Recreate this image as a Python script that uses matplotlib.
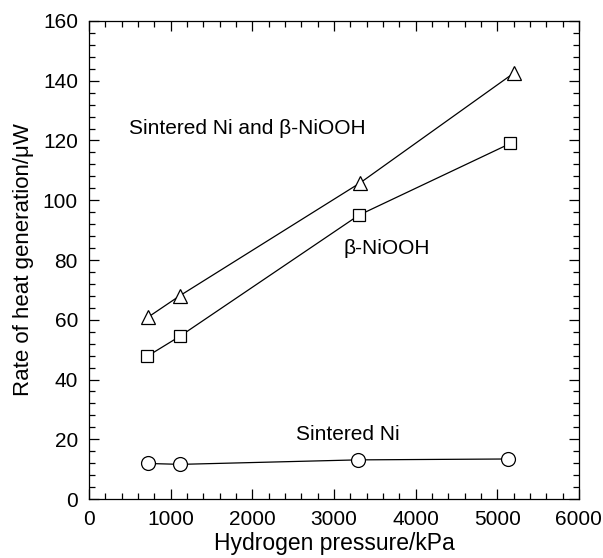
import matplotlib.pyplot as plt
from matplotlib.ticker import MultipleLocator

plt.rcParams['font.family'] = ['Liberation Sans', 'DejaVu Sans']

# data
p_tri = [720, 1110, 3320, 5200]
q_tri = [60.8, 68.0, 105.8, 142.5]
p_sq = [715, 1115, 3305, 5160]
q_sq = [47.8, 54.5, 95.0, 119.0]
p_circ = [720, 1120, 3290, 5135]
q_circ = [11.9, 11.6, 13.1, 13.4]

fig = plt.figure(figsize=(6.03, 5.58), dpi=100)
ax = fig.add_axes([0.1476, 0.1057, 0.8124, 0.8567])

mk = dict(color='black', lw=0.9, mfc='white', mec='black', mew=0.9)
ax.plot(p_tri, q_tri, marker='^', ms=10, **mk)
ax.plot(p_sq, q_sq, marker='s', ms=9, **mk)
ax.plot(p_circ, q_circ, marker='o', ms=10, **mk)

ax.set_xlim(0, 6000)
ax.set_ylim(0, 160)
ax.xaxis.set_major_locator(MultipleLocator(1000))
ax.xaxis.set_minor_locator(MultipleLocator(200))
ax.yaxis.set_major_locator(MultipleLocator(20))
ax.yaxis.set_minor_locator(MultipleLocator(4))
ax.tick_params(which='both', direction='in', top=True, right=True,
               labelsize=15, width=0.9)
ax.tick_params(which='major', length=7, pad=8)
ax.tick_params(which='minor', length=4)
for s in ax.spines.values():
    s.set_linewidth(0.9)

ax.set_xlabel('Hydrogen pressure/kPa', fontsize=16.5, labelpad=2)
ax.set_ylabel('Rate of heat generation/\u03bcW', fontsize=16, labelpad=6)

ax.text(490, 124, 'Sintered Ni and \u03b2-NiOOH', fontsize=15, va='center')
ax.text(3120, 84, '\u03b2-NiOOH', fontsize=15, va='center')
ax.text(2530, 21.5, 'Sintered Ni', fontsize=15, va='center')

fig.savefig('out.png', dpi=100)
